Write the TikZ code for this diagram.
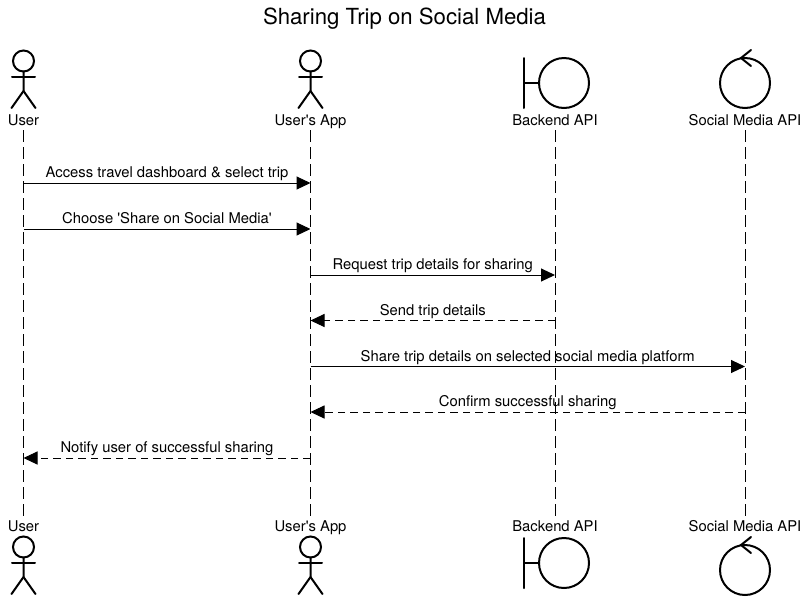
\documentclass[tikz,border=0pt]{standalone}
\usepackage{fontspec}
\setmainfont{TeX Gyre Heros}
\usetikzlibrary{arrows.meta}
\usetikzlibrary{positioning}
\tikzstyle{party} = [inner sep=0pt, minimum height=20pt, text height=12pt, text depth=2pt, font=\fontsize{14.8}{17}\selectfont]
\tikzstyle{figure} = [line width=2pt, line cap=round]
\tikzstyle{lifeline} = [line width=1pt, dash pattern=on 12pt off 5pt]
\tikzstyle{msg} = [line width=1pt, -{Triangle[length=14pt,width=13pt]}]
\tikzstyle{reply} = [msg, dash pattern=on 7.5pt off 5pt]
\tikzstyle{msglabel} = [above=2pt, inner sep=0pt, text height=11pt, text depth=3pt, font=\fontsize{14.8}{17}\selectfont]

\begin{document}
\begin{tikzpicture}[x=1pt, y=-1pt]

  \useasboundingbox (0,0) rectangle (808,606);

  \node[font=\fontsize{22.2}{26}\selectfont, inner sep=0pt] (title) at (404.5,19) {Sharing Trip on Social Media};

  \node[party] (usertop) at (23.5,120) {User};
  \node[party] (apptop) at (310.5,120) {User\textquotesingle s App};
  \node[party] (backendtop) at (555,120) {Backend API};
  \node[party] (socialtop) at (745,120) {Social Media API};

  \node[party] (userbot) at (23.5,526) {User};
  \node[party] (appbot) at (310.5,526) {User\textquotesingle s App};
  \node[party] (backendbot) at (555,526) {Backend API};
  \node[party] (socialbot) at (745,526) {Social Media API};

  \draw[lifeline] (usertop) -- (userbot);
  \draw[lifeline] (apptop) -- (appbot);
  \draw[lifeline] (backendtop) -- (backendbot);
  \draw[lifeline] (socialtop) -- (socialbot);

  % stick figures
  \foreach \x/\y in {23.5/61, 310.5/61, 23.5/547, 310.5/547} {
    \draw[figure] (\x,\y) circle (10.5pt);
    \draw[figure] (\x,\y+10.5) -- (\x,\y+30) -- (\x-12,\y+47);
    \draw[figure] (\x,\y+30) -- (\x+12,\y+47);
    \draw[figure] (\x-11.5,\y+16) -- (\x+11.5,\y+16);
  }

  % boundary
  \foreach \y in {83, 563} {
    \draw[figure] (564,\y) circle (25pt);
    \draw[figure] (524,\y-25) -- (524,\y+25);
    \draw[figure] (524,\y) -- (539,\y);
  }

  % control
  \foreach \y in {83, 570} {
    \draw[figure] (745,\y) circle (25pt);
    \draw[figure] (751,\y-33) -- (741,\y-25) -- (751,\y-17);
  }

  \draw[msg] (usertop |- 0,183) -- node[msglabel]{Access travel dashboard \& select trip} (apptop |- 0,183);
  \draw[msg] (usertop |- 0,229) -- node[msglabel]{Choose \textquotesingle Share on Social Media\textquotesingle} (apptop |- 0,229);
  \draw[msg] (apptop |- 0,275) -- node[msglabel]{Request trip details for sharing} (backendtop |- 0,275);
  \draw[reply] (backendtop |- 0,320.5) -- node[msglabel]{Send trip details} (apptop |- 0,320.5);
  \draw[msg] (apptop |- 0,366.5) -- node[msglabel]{Share trip details on selected social media platform} (socialtop |- 0,366.5);
  \draw[reply] (socialtop |- 0,412) -- node[msglabel]{Confirm successful sharing} (apptop |- 0,412);
  \draw[reply] (apptop |- 0,458) -- node[msglabel]{Notify user of successful sharing} (usertop |- 0,458);

\end{tikzpicture}
\end{document}
